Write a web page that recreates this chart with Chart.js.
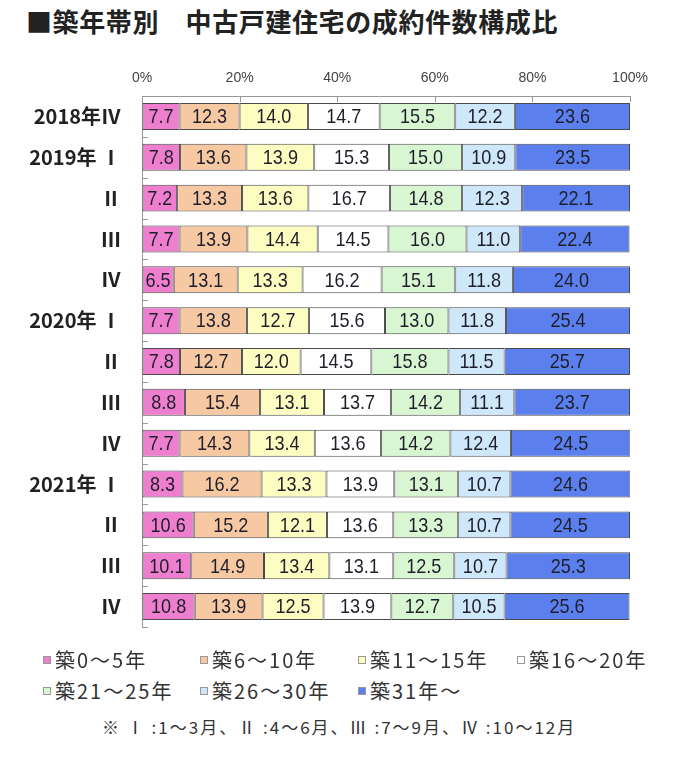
<!DOCTYPE html>
<html><head><meta charset="utf-8">
<script src="https://cdn.jsdelivr.net/npm/chart.js@4/dist/chart.umd.min.js"></script>
<style>
html,body{margin:0;padding:0;background:#fff;width:700px;height:766px;overflow:hidden;font-family:"Noto Sans CJK JP",sans-serif;color:#222}
#title{position:absolute;left:26px;top:3px;font-size:26px;font-weight:bold;letter-spacing:0.6px;white-space:nowrap;color:#222;line-height:36px}
#wrap{position:absolute;left:0;top:0;width:700px;height:660px}
#legend{position:absolute;left:43px;top:646px;width:650px}
.item{position:absolute;font-size:20px;letter-spacing:2px;white-space:nowrap;line-height:28px;color:#333}
.box{display:inline-block;width:6px;height:6px;border:1px solid #999;margin-right:4px;vertical-align:4px}
#note{position:absolute;left:102px;top:714px;font-size:17px;white-space:nowrap;color:#333;letter-spacing:2px;line-height:26px}
</style></head>
<body>
<div id="title">■築年帯別　中古戸建住宅の成約件数構成比</div>
<div id="wrap"><canvas id="c" width="700" height="660"></canvas></div>
<div id="legend"></div>
<div id="note">※ Ⅰ :1～3月、Ⅱ :4～6月、Ⅲ :7～9月、Ⅳ :10～12月</div>
<script>
const categories = ["2018年Ⅳ","2019年 Ⅰ","Ⅱ","Ⅲ","Ⅳ","2020年 Ⅰ","Ⅱ","Ⅲ","Ⅳ","2021年 Ⅰ","Ⅱ","Ⅲ","Ⅳ"];
const seriesNames = ["築0～5年","築6～10年","築11～15年","築16～20年","築21～25年","築26～30年","築31年～"];
const age0_5   = [7.7,7.8,7.2,7.7,6.5,7.7,7.8,8.8,7.7,8.3,10.6,10.1,10.8];
const age6_10  = [12.3,13.6,13.3,13.9,13.1,13.8,12.7,15.4,14.3,16.2,15.2,14.9,13.9];
const age11_15 = [14.0,13.9,13.6,14.4,13.3,12.7,12.0,13.1,13.4,13.3,12.1,13.4,12.5];
const age16_20 = [14.7,15.3,16.7,14.5,16.2,15.6,14.5,13.7,13.6,13.9,13.6,13.1,13.9];
const age21_25 = [15.5,15.0,14.8,16.0,15.1,13.0,15.8,14.2,14.2,13.1,13.3,12.5,12.7];
const age26_30 = [12.2,10.9,12.3,11.0,11.8,11.8,11.5,11.1,12.4,10.7,10.7,10.7,10.5];
const age31up  = [23.6,23.5,22.1,22.4,24.0,25.4,25.7,23.7,24.5,24.6,24.5,25.3,25.6];
const xTicks = [0,20,40,60,80,100];

const seriesData = [age0_5,age6_10,age11_15,age16_20,age21_25,age26_30,age31up];
const colors = ["#ee7fcf","#f6c9a2","#fdfdc2","#ffffff","#d9f6d2","#cfe7fb","#5b80ee"];

const datasets = seriesData.map((d,i)=>({
  label: seriesNames[i], data: d, backgroundColor: colors[i],
  borderColor: "#4a4a4a", borderWidth: 1, borderSkipped: false,
  categoryPercentage: 1.0, barPercentage: 0.66
}));

const labelPlugin = {
  id: "segLabels",
  afterDatasetsDraw(chart){
    const ctx = chart.ctx;
    const sx = 0.86;
    chart.data.datasets.forEach((ds,di)=>{
      const meta = chart.getDatasetMeta(di);
      meta.data.forEach((bar,i)=>{
        const x = (bar.x + bar.base)/2;
        ctx.save();
        ctx.font = '21px "Liberation Sans", Arial, sans-serif';
        ctx.fillStyle = "#1e1e2a";
        ctx.textAlign = "center"; ctx.textBaseline = "middle";
        ctx.translate(x, bar.y + 1);
        ctx.scale(sx, 1);
        ctx.fillText(ds.data[i].toFixed(1), 0, 0);
        ctx.restore();
      });
    });
  }
};

const innerTicks = {
  id: "innerTicks",
  afterDraw(chart){
    const ctx = chart.ctx, xs = chart.scales.x, ys = chart.scales.y, a = chart.chartArea;
    ctx.save();
    ctx.strokeStyle = "#999"; ctx.lineWidth = 1;
    ctx.beginPath();
    xTicks.forEach(v=>{
      if (v === 0) return;
      const px = Math.round(xs.getPixelForValue(v)) + 0.5;
      ctx.moveTo(px, a.top); ctx.lineTo(px, a.top + 6);
    });
    for (let i = 1; i <= categories.length; i++) {
      const py = Math.round((ys.getPixelForValue(i-1) + ys.getPixelForValue(i))/2) + 0.5;
      ctx.moveTo(a.left, py); ctx.lineTo(a.left + 6, py);
    }
    ctx.stroke();
    ctx.restore();
  }
};

new Chart(document.getElementById("c"), {
  type: "bar",
  data: { labels: categories, datasets },
  options: {
    indexAxis: "y", responsive: false, animation: false,
    layout: { padding: { left: 0, right: 70, top: 0, bottom: 31 } },
    plugins: { legend: { display: false }, tooltip: { enabled: false } },
    scales: {
      x: {
        stacked: true, position: "top", min: 0, max: 100,
        afterBuildTicks(s){ s.ticks = xTicks.map(v=>({value:v})); },
        afterFit(s){ s.height = 96; },
        ticks: { callback: v => v + "%", color: "#444", padding: 9,
          font: { family: '"Liberation Sans", Arial, sans-serif', size: 14 } },
        grid: { display: true, drawOnChartArea: false, drawTicks: false, tickLength: 0, color: "#999" },
        border: { display: true, color: "#999" }
      },
      y: {
        stacked: true,
        afterFit(s){ s.width = 142; },
        ticks: { color: "#222", padding: 21, font: { family: '"Noto Sans CJK JP", sans-serif', size: 20, weight: "bold" } },
        grid: { display: true, drawOnChartArea: false, drawTicks: false, tickLength: 0, color: "#999" },
        border: { display: true, color: "#999" }
      }
    }
  },
  plugins: [labelPlugin, innerTicks]
});

// HTML legend
const lg = document.getElementById("legend");
const pos = [[0,0],[157,0],[315,0],[474,0],[0,31],[157,31],[315,31]];
seriesNames.forEach((n,i)=>{
  const el = document.createElement("div");
  el.className = "item";
  el.style.left = pos[i][0]+"px"; el.style.top = pos[i][1]+"px";
  el.innerHTML = '<span class="box" style="background:'+colors[i]+'"></span>'+n;
  lg.appendChild(el);
});
</script>
</body></html>
